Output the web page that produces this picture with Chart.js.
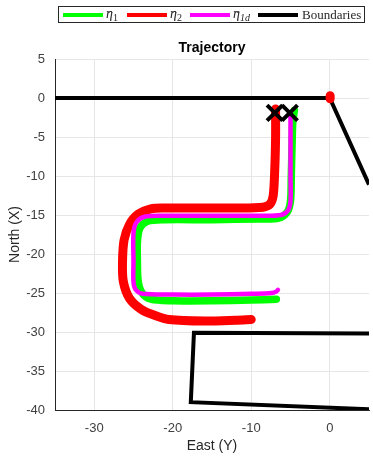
<!DOCTYPE html>
<html>
<head>
<meta charset="utf-8">
<script src="https://cdn.jsdelivr.net/npm/chart.js@4.4.1/dist/chart.umd.min.js"></script>
<style>
  html, body { margin: 0; padding: 0; background: #fff; }
  #wrap { width: 373px; height: 460px; position: relative; }
</style>
</head>
<body>
<div id="wrap"><canvas id="c"></canvas></div>
<script>
// Axis ticks
const eastTicks = [-30, -20, -10, 0];
const northTicks = [5, 0, -5, -10, -15, -20, -25, -30, -35, -40];

// Estimated vessel 1 (eta-hat 1): East (Y) / North (X)
const eta1East  = [-4.5, -4.7, -4.8, -4.9, -5.0, -5.4, -6.5, -9, -15, -21, -23.2, -24.2, -24.5, -24.5, -24.4, -23.9, -22.8, -20, -15, -10, -6.8];
const eta1North = [-1.6, -3, -6, -10, -13.2, -14.6, -15.4, -15.5, -15.6, -15.6, -15.8, -16.7, -18.5, -21, -23.5, -25.0, -25.8, -26.0, -26.0, -25.9, -25.8];

// Estimated vessel 2 (eta-hat 2); null splits the start blob from the run
const eta2East  = [0.05, 0.05, null, -6.9, -6.9, -7.0, -7.2, -7.6, -8.5, -12, -17, -21, -22.8, -24.4, -25.5, -26.2, -26.4, -26.3, -25.5, -24, -22.2, -20.5, -16, -12, -10];
const eta2North = [0.3, -0.1, null, -1.4, -5, -9, -12.5, -13.6, -14.0, -14.1, -14.1, -14.1, -14.2, -14.9, -16.2, -18.2, -21, -23.5, -25.7, -27.1, -27.9, -28.4, -28.6, -28.5, -28.4];

// Desired path (eta-tilde 1d)
const eta1dEast  = [-5.0, -5.0, -5.0, -5.0, -5.3, -6.2, -9, -15, -21, -23.5, -24.6, -25.0, -25.0, -25.0, -24.7, -23.8, -20, -15, -10, -7.4, -6.8, -6.6];
const eta1dNorth = [-1.9, -5, -10, -13.2, -14.4, -15.0, -15.1, -15.1, -15.1, -15.2, -15.9, -17.3, -21, -23.6, -24.6, -25.1, -25.2, -25.2, -25.1, -25.0, -24.8, -24.6];

// Boundaries (two polylines separated by null)
const boundEast  = [-35, 0, 5, null, 5, -17.3, -17.7, 5];
const boundNorth = [0, 0, -11.1, null, -30.2, -30.1, -39.0, -39.9];

// Start markers
const startEast  = [-7.0, -5.1];
const startNorth = [-1.9, -1.9];

// Legend entries: symbol, accent, subscript, colour
const legendSymbols = ['η', 'η', 'η', 'Boundaries'];
const legendAccents = ['ˆ', 'ˆ', '˜', ''];
const legendSubs    = ['1', '2', '1d', ''];
const legendColors  = ['#00ff00', '#ff0000', '#ff00ff', '#000000'];

const toPts = (xs, ys) => xs.map((x, i) => ({ x: x, y: ys[i] }));

const lineBase = {
  showLine: true,
  pointRadius: 0,
  pointHoverRadius: 0,
  tension: 0.3,
  borderCapStyle: 'round',
  borderJoinStyle: 'round',
  spanGaps: false
};

// Boxed legend in the top strip
const boxedLegend = {
  id: 'boxedLegend',
  afterDraw(chart) {
    const ctx = chart.ctx;
    const sampleX = [63, 127, 190, 258];
    ctx.save();
    ctx.fillStyle = '#ffffff';
    ctx.fillRect(58, 6, 307, 17);
    ctx.strokeStyle = '#262626';
    ctx.lineWidth = 1;
    ctx.strokeRect(58.5, 6.5, 306, 16);
    const cy = 15;
    for (let i = 0; i < legendSymbols.length; i++) {
      const x = sampleX[i];
      ctx.strokeStyle = legendColors[i];
      ctx.lineWidth = 4;
      ctx.lineCap = 'butt';
      ctx.beginPath();
      ctx.moveTo(x, cy);
      ctx.lineTo(x + 40, cy);
      ctx.stroke();
      const tx = x + 43;
      ctx.fillStyle = '#262626';
      ctx.textBaseline = 'alphabetic';
      ctx.textAlign = 'left';
      if (legendSubs[i] !== '') {
        ctx.font = 'italic 14px "Liberation Serif"';
        const w = ctx.measureText(legendSymbols[i]).width;
        ctx.fillText(legendSymbols[i], tx, cy + 3);
        ctx.font = '13px "Liberation Serif"';
        const aw = ctx.measureText(legendAccents[i]).width;
        ctx.fillText(legendAccents[i], tx + w / 2 - aw / 2 + 1, cy + 5);
        ctx.font = (legendSubs[i].length > 1 ? 'italic ' : '') + '10px "Liberation Serif"';
        ctx.fillText(legendSubs[i], tx + w, cy + 6);
      } else {
        ctx.font = '13px "Liberation Serif"';
        ctx.fillText(legendSymbols[i], tx + 1, cy + 4);
      }
    }
    ctx.restore();
  }
};

new Chart(document.getElementById('c'), {
  type: 'scatter',
  data: {
    datasets: [
      Object.assign({}, lineBase, {
        label: 'Start', data: toPts(startEast, startNorth), showLine: false,
        pointStyle: 'crossRot', pointRadius: 11, pointBorderWidth: 4,
        pointBorderColor: '#000', borderColor: '#000', order: 0
      }),
      Object.assign({}, lineBase, {
        label: 'η̃1d', data: toPts(eta1dEast, eta1dNorth),
        borderColor: '#ff00ff', borderWidth: 4.5, order: 1
      }),
      Object.assign({}, lineBase, {
        label: 'η̂2', data: toPts(eta2East, eta2North),
        borderColor: '#ff0000', borderWidth: 9, order: 2
      }),
      Object.assign({}, lineBase, {
        label: 'η̂1', data: toPts(eta1East, eta1North),
        borderColor: '#00ff00', borderWidth: 7.5, order: 3
      }),
      Object.assign({}, lineBase, {
        label: 'Boundaries', data: toPts(boundEast, boundNorth),
        borderColor: '#000000', borderWidth: 4, tension: 0,
        borderCapStyle: 'butt', borderJoinStyle: 'miter', order: 4
      })
    ]
  },
  options: {
    responsive: true,
    maintainAspectRatio: false,
    devicePixelRatio: 1,
    animation: false,
    events: [],
    layout: { autoPadding: false, padding: { left: 0, right: 4, top: 0, bottom: 0 } },
    plugins: {
      legend: { display: false },
      tooltip: { enabled: false },
      title: {
        display: true,
        fullSize: false,
        text: 'Trajectory',
        color: '#000000',
        font: { family: '"Liberation Sans", Arial, sans-serif', size: 14, weight: 'bold', lineHeight: 1.2 },
        padding: { top: 39.6, bottom: 2.6 }
      }
    },
    scales: {
      x: {
        type: 'linear',
        min: -35,
        max: 5,
        afterBuildTicks(scale) { scale.ticks = eastTicks.map(v => ({ value: v })); },
        afterFit(scale) { scale.height = 50; },
        grid: { color: '#e6e6e6', lineWidth: 1, drawTicks: true, tickLength: 11, tickColor: 'rgba(0,0,0,0)' },
        border: { display: true, color: '#262626', width: 1 },
        ticks: {
          color: '#404040',
          padding: 0,
          maxRotation: 0,
          font: { family: '"Liberation Sans", Arial, sans-serif', size: 13 }
        },
        title: {
          display: true,
          text: 'East (Y)',
          color: '#262626',
          font: { family: '"Liberation Sans", Arial, sans-serif', size: 14 },
          padding: { top: 0, bottom: 5 }
        }
      },
      y: {
        type: 'linear',
        min: -40,
        max: 5,
        afterBuildTicks(scale) { scale.ticks = northTicks.map(v => ({ value: v })); },
        afterFit(scale) { scale.width = 55; },
        grid: { color: '#e6e6e6', lineWidth: 1, drawTicks: false },
        border: { display: true, color: '#262626', width: 1 },
        ticks: {
          color: '#404040',
          padding: 10,
          font: { family: '"Liberation Sans", Arial, sans-serif', size: 13 }
        },
        title: {
          display: true,
          text: 'North (X)',
          color: '#262626',
          font: { family: '"Liberation Sans", Arial, sans-serif', size: 14 },
          padding: { top: 7, bottom: 0 }
        }
      }
    }
  },
  plugins: [boxedLegend]
});
</script>
</body>
</html>
